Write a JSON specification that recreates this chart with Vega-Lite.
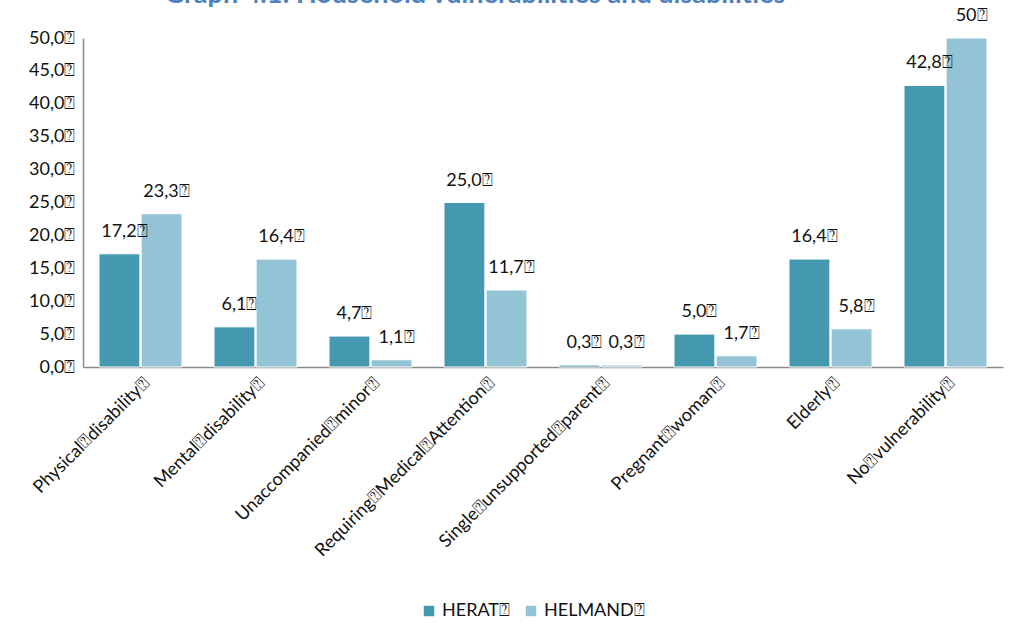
{
  "$schema": "https://vega.github.io/schema/vega-lite/v6.json",
  "autosize": "none",
  "width": 920,
  "height": 329,
  "padding": {"left": 83, "top": 38, "right": 14, "bottom": 273},
  "background": "white",
  "title": {
    "text": "Graph 4.1: Household vulnerabilities and disabilities",
    "color": "#4F81BD",
    "font": "Lato",
    "fontSize": 27,
    "fontWeight": "bold",
    "anchor": "middle",
    "frame": "group",
    "dx": -68,
    "offset": -23,
    "baseline": "alphabetic"
  },
  "data": {
    "values": [
      {"category": "Physical⍰disability⍰", "region": "HERAT⍰", "value": 17.2, "label": "17,2⍰"},
      {"category": "Physical⍰disability⍰", "region": "HELMAND⍰", "value": 23.3, "label": "23,3⍰"},
      {"category": "Mental⍰disability⍰", "region": "HERAT⍰", "value": 6.1, "label": "6,1⍰"},
      {"category": "Mental⍰disability⍰", "region": "HELMAND⍰", "value": 16.4, "label": "16,4⍰"},
      {"category": "Unaccompanied⍰minor⍰", "region": "HERAT⍰", "value": 4.7, "label": "4,7⍰"},
      {"category": "Unaccompanied⍰minor⍰", "region": "HELMAND⍰", "value": 1.1, "label": "1,1⍰"},
      {"category": "Requiring⍰Medical⍰Attention⍰", "region": "HERAT⍰", "value": 25.0, "label": "25,0⍰"},
      {"category": "Requiring⍰Medical⍰Attention⍰", "region": "HELMAND⍰", "value": 11.7, "label": "11,7⍰"},
      {"category": "Single⍰unsupported⍰parent⍰", "region": "HERAT⍰", "value": 0.3, "label": "0,3⍰"},
      {"category": "Single⍰unsupported⍰parent⍰", "region": "HELMAND⍰", "value": 0.3, "label": "0,3⍰"},
      {"category": "Pregnant⍰woman⍰", "region": "HERAT⍰", "value": 5.0, "label": "5,0⍰"},
      {"category": "Pregnant⍰woman⍰", "region": "HELMAND⍰", "value": 1.7, "label": "1,7⍰"},
      {"category": "Elderly⍰", "region": "HERAT⍰", "value": 16.4, "label": "16,4⍰"},
      {"category": "Elderly⍰", "region": "HELMAND⍰", "value": 5.8, "label": "5,8⍰"},
      {"category": "No⍰vulnerability⍰", "region": "HERAT⍰", "value": 42.8, "label": "42,8⍰"},
      {"category": "No⍰vulnerability⍰", "region": "HELMAND⍰", "value": 50, "label": "50⍰"}
    ]
  },
  "encoding": {
    "x": {
      "field": "category",
      "type": "nominal",
      "sort": null,
      "scale": {"paddingInner": 0.278, "paddingOuter": 0.139},
      "axis": {
        "title": null,
        "labelAngle": -45,
        "labelFont": "Lato",
        "labelFontSize": 18,
        "labelColor": "#111111",
        "labelPadding": 7,
        "ticks": false,
        "domainColor": "#8a8a8a",
        "domainWidth": 1.5,
        "labelLimit": 400
      }
    },
    "xOffset": {
      "field": "region",
      "type": "nominal",
      "sort": ["HERAT⍰", "HELMAND⍰"],
      "scale": {"paddingInner": 0.03}
    },
    "y": {
      "field": "value",
      "type": "quantitative",
      "scale": {"domain": [0, 50], "nice": false},
      "axis": {
        "title": null,
        "values": [0, 5, 10, 15, 20, 25, 30, 35, 40, 45, 50],
        "labelExpr": "replace(format(datum.value, '.1f'), '.', ',') + '⍰'",
        "labelFont": "Lato",
        "labelFontSize": 18,
        "labelColor": "#111111",
        "ticks": false,
        "grid": false,
        "labelPadding": 8,
        "domainColor": "#8a8a8a",
        "domainWidth": 1.5
      }
    }
  },
  "layer": [
    {
      "mark": {"type": "bar", "stroke": "#ffffff", "strokeWidth": 1},
      "encoding": {
        "color": {
          "field": "region",
          "type": "nominal",
          "sort": ["HERAT⍰", "HELMAND⍰"],
          "scale": {"domain": ["HERAT⍰", "HELMAND⍰"], "range": ["#4499B0", "#93C4D6"]},
          "legend": {
            "title": null,
            "orient": "none",
            "direction": "horizontal",
            "legendX": 337,
            "legendY": 564,
            "symbolType": "square",
            "symbolSize": 110,
            "symbolStrokeWidth": 0,
            "labelFont": "Lato",
            "labelFontSize": 18,
            "labelColor": "#111111",
            "columnPadding": 12
          }
        }
      }
    },
    {
      "mark": {"type": "text", "baseline": "bottom", "dy": -13, "dx": 5, "font": "Lato", "fontSize": 18, "color": "#111111"},
      "encoding": {
        "text": {"field": "label"}
      }
    }
  ],
  "config": {
    "view": {"stroke": null}
  }
}
